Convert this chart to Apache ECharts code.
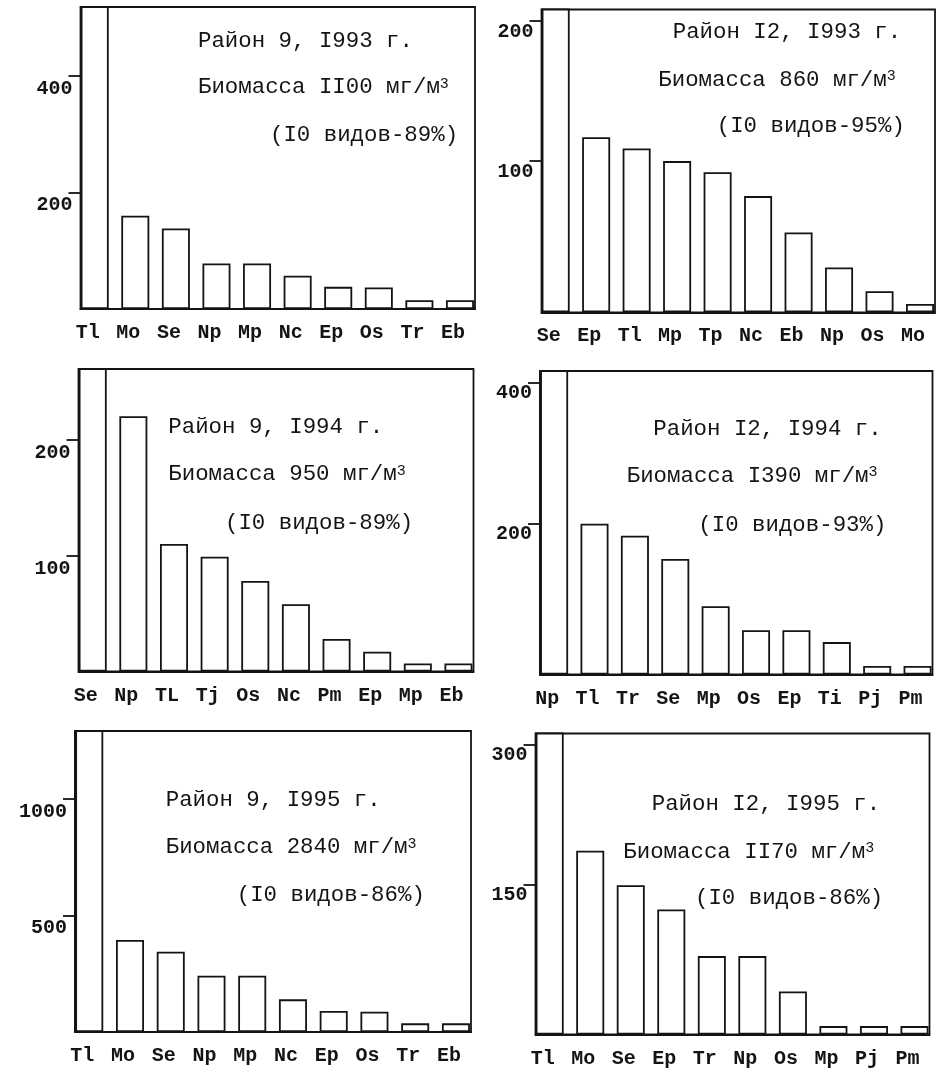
<!DOCTYPE html>
<html>
<head>
<meta charset="utf-8">
<script src="https://cdn.jsdelivr.net/npm/echarts@6/dist/echarts.min.js"></script>
<style>
html,body{margin:0;padding:0;background:#fff;}
#c{width:946px;height:1071px;}
</style>
</head>
<body>
<div id="c"></div>
<script>
// ---- data ----
const cats1 = ['Tl','Mo','Se','Np','Mp','Nc','Ep','Os','Tr','Eb'];
const vals1 = [560,160,138,78,78,57,38,37,15,15];
const ticks1 = [200,400];

const cats2 = ['Se','Ep','Tl','Mp','Tp','Nc','Eb','Np','Os','Mo'];
const vals2 = [240,125,117,108,100,83,57,32,15,6];
const ticks2 = [100,200];

const cats3 = ['Se','Np','TL','Tj','Os','Nc','Pm','Ep','Mp','Eb'];
const vals3 = [290,220,110,99,78,58,28,17,7,7];
const ticks3 = [100,200];

const cats4 = ['Np','Tl','Tr','Se','Mp','Os','Ep','Ti','Pj','Pm'];
const vals4 = [480,214,197,164,97,63,63,46,12,12];
const ticks4 = [200,400];

const cats5 = ['Tl','Mo','Se','Np','Mp','Nc','Ep','Os','Tr','Eb'];
const vals5 = [1400,394,344,241,241,140,90,87,37,37];
const ticks5 = [500,1000];

const cats6 = ['Tl','Mo','Se','Ep','Tr','Np','Os','Mp','Pj','Pm'];
const vals6 = [350,197,160,134,84,84,46,9,9,9];
const ticks6 = [150,300];

const text1 = ['Район 9, I993 г.', 'Биомасса II00 мг/м', '(I0 видов-89%)'];
const text2 = ['Район I2, I993 г.', 'Биомасса 860 мг/м', '(I0 видов-95%)'];
const text3 = ['Район 9, I994 г.', 'Биомасса 950 мг/м', '(I0 видов-89%)'];
const text4 = ['Район I2, I994 г.', 'Биомасса I390 мг/м', '(I0 видов-93%)'];
const text5 = ['Район 9, I995 г.', 'Биомасса 2840 мг/м', '(I0 видов-86%)'];
const text6 = ['Район I2, I995 г.', 'Биомасса II70 мг/м', '(I0 видов-86%)'];

// ---- layout ----
const panels = [
  {cats:cats1, vals:vals1, ticks:ticks1, text:text1, ymax:518, grid:{left:80.5, top:7, width:394.5, height:302},
   lab:'top', tickOff:0, tpos:[[198,41],[198,87.5],[270,135]]},
  {cats:cats2, vals:vals2, ticks:ticks2, text:text2, ymax:216.3, grid:{left:541.5, top:9.5, width:393.5, height:302.8},
   lab:'middle', tickOff:8.3, tpos:[[672.7,31.7],[658.3,80],[716.7,125.8]]},
  {cats:cats3, vals:vals3, ticks:ticks3, text:text3, ymax:260.8, grid:{left:78.5, top:369, width:395, height:302.5},
   lab:'top', tickOff:0, tpos:[[168.3,427.3],[168.3,474.2],[225,522.7]]},
  {cats:cats4, vals:vals4, ticks:ticks4, text:text4, ymax:431, grid:{left:540, top:371, width:392.5, height:303.5},
   lab:'middle', tickOff:14.4, tpos:[[653.3,429.2],[626.7,475.8],[698.3,525]]},
  {cats:cats5, vals:vals5, ticks:ticks5, text:text5, ymax:1290, grid:{left:75, top:731, width:396, height:301},
   lab:'top', tickOff:0, tpos:[[165.7,799.7],[165.7,847.5],[236.7,895]]},
  {cats:cats6, vals:vals6, ticks:ticks6, text:text6, ymax:322.5, grid:{left:535.5, top:733.5, width:394, height:301},
   lab:'middle', tickOff:10.4, tpos:[[651.7,804],[623.3,851.7],[695,898.3]]}
];

const INK = '#141414';
const LW = 1.8;
const MONO = '"Liberation Mono", "DejaVu Sans Mono", monospace';

const grids = [], xAxes = [], yAxes = [], series = [], graphics = [];

panels.forEach((p, i) => {
  grids.push(Object.assign({show:true, borderColor:INK, borderWidth:LW, backgroundColor:'transparent', containLabel:false}, p.grid));
  const idx = p.cats.map((_, k) => k);
  xAxes.push({
    type:'value', gridIndex:i, min:-0.35, max:9.37, position:'bottom',
    splitLine:{show:false},
    axisLine:{show:true, onZero:false, lineStyle:{color:INK, width:LW}},
    axisTick:{show:false},
    axisLabel:{
      customValues: idx,
      formatter: v => p.cats[Math.round(v)],
      fontFamily: MONO, fontWeight:'bold', fontSize:20, color:INK,
      margin:14, padding:[0,14,0,0]
    }
  });
  yAxes.push({
    type:'value', gridIndex:i, min:0, max:p.ymax, position:'left',
    splitLine:{show:false},
    axisLine:{show:true, onZero:false, lineStyle:{color:INK, width:LW}},
    axisTick:{show:false},
    axisLabel:{
      customValues:p.ticks, formatter: v => String(v),
      fontFamily:MONO, fontWeight:'bold', fontSize:20, color:INK,
      margin:8, verticalAlign:p.lab, padding: p.lab === 'top' ? [3,0,0,0] : 0
    }
  });
  series.push({
    type:'bar', xAxisIndex:i, yAxisIndex:i,
    data: p.vals.map((v, k) => [k, v]),
    barWidth:28, clip:true, silent:true,
    itemStyle:{color:'#fff', borderColor:INK, borderWidth:LW}
  });
  p.text.forEach((t, k) => {
    const isBio = k === 1;
    graphics.push({
      type:'text', x:p.tpos[k][0], y:p.tpos[k][1], silent:true,
      style:{
        text: isBio ? t + '{sup|3}' : t,
        fontFamily: MONO, fontSize:22.4, fill:INK,
        align:'left', verticalAlign:'middle',
        rich: {sup:{fontSize:15, fontFamily:MONO, fill:INK, verticalAlign:'top'}}
      }
    });
  });
});

// tick-mark axes: the printed tick marks sit at the top edge of each tick label
panels.forEach((p, i) => {
  yAxes.push({
    type:'value', gridIndex:i, min:-p.tickOff, max:p.ymax - p.tickOff, position:'left', offset:0,
    splitLine:{show:false}, axisLine:{show:false, onZero:false}, axisLabel:{show:false},
    axisTick:{show:true, inside:false, length:12, customValues:p.ticks, lineStyle:{color:INK, width:LW}}
  });
});

const chart = echarts.init(document.getElementById('c'), null, {renderer:'canvas'});
chart.setOption({
  animation:false,
  backgroundColor:'#fff',
  grid:grids, xAxis:xAxes, yAxis:yAxes, series:series, graphic:graphics
});
</script>
</body>
</html>
